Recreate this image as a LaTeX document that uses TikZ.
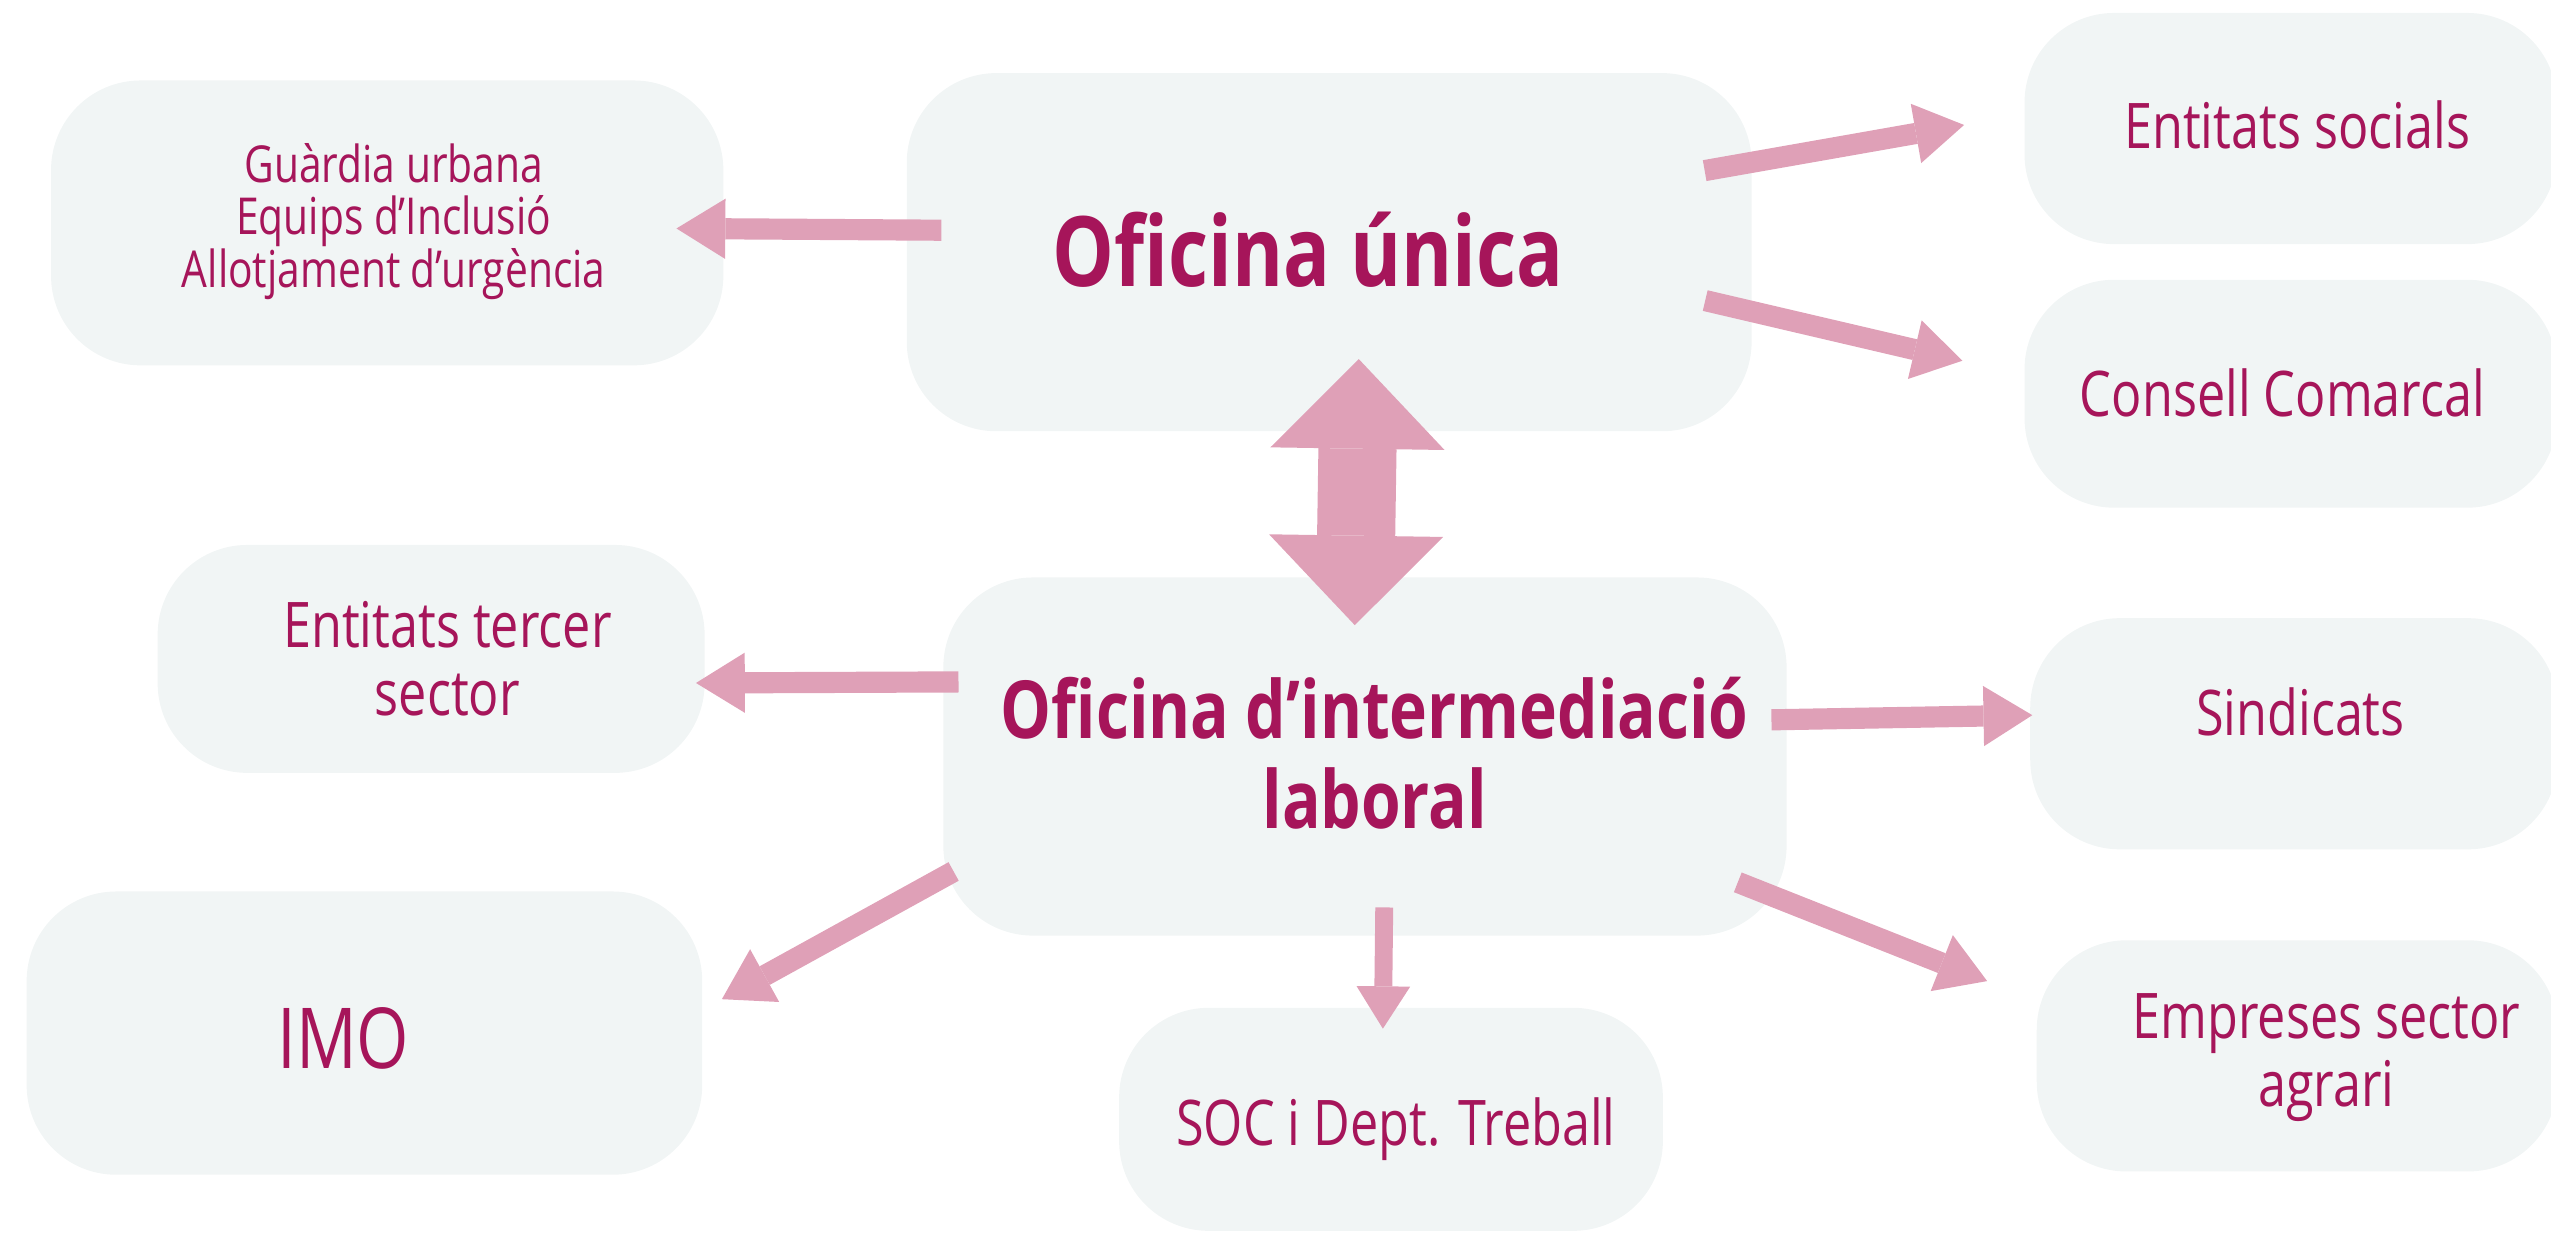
\documentclass[tikz,border=0pt]{standalone}
\usepackage{fontspec}
\setmainfont{Open Sans}[FakeStretch=0.8]
\usetikzlibrary{arrows.meta}
\definecolor{txtred}{HTML}{A6155A}
\definecolor{arrowpink}{HTML}{DFA0B7}
\definecolor{boxgray}{HTML}{F1F5F5}
\tikzstyle{box_fill}=[rectangle,rounded corners=0.55cm,fill=boxgray,inner sep=0pt]
\tikzstyle{item_text}=[text=txtred,align=center,font=\fontsize{11}{11.8}\selectfont]
\tikzstyle{head_text}=[text=txtred,align=center,font=\bfseries\fontsize{17}{17}\selectfont]
\tikzstyle{link_arrow}=[draw=arrowpink,line width=0.13cm,-{Triangle[length=0.3cm,width=0.37cm,line width=0pt]}]

\begin{document}
\begin{tikzpicture}[x=0.01cm,y=-0.01cm]
\useasboundingbox (0,0) rectangle (1568,760);
\node (guardia) at (238,137)[box_fill,minimum width=4.13cm,minimum height=1.75cm] {};
\node (unica) at (817,155)[box_fill,minimum width=5.19cm,minimum height=2.2cm] {};
\node (socials) at (1408,79)[box_fill,minimum width=3.27cm,minimum height=1.42cm] {};
\node (consell) at (1408,242)[box_fill,minimum width=3.27cm,minimum height=1.4cm] {};
\node (tercer) at (265,405)[box_fill,minimum width=3.36cm,minimum height=1.4cm] {};
\node (intermed) at (839,465)[box_fill,minimum width=5.18cm,minimum height=2.2cm] {};
\node (sindicats) at (1410,451)[box_fill,minimum width=3.24cm,minimum height=1.42cm] {};
\node (imo) at (224,635)[box_fill,minimum width=4.15cm,minimum height=1.74cm] {};
\node (soc) at (855,688)[box_fill,minimum width=3.34cm,minimum height=1.37cm] {};
\node (empreses) at (1412,649)[box_fill,minimum width=3.2cm,minimum height=1.42cm] {};

\node (t_guardia) at (242,136)[item_text,font=\fontsize{8.9}{9.2}\selectfont] {Guàrdia urbana\\Equips d’Inclusió\\Allotjament d’urgència};
\node (t_unica) at (804,176)[head_text,anchor=base] {Oficina única};
\node (t_socials) at (1412,91)[item_text,anchor=base] {Entitats socials};
\node (t_consell) at (1403,256)[item_text,anchor=base] {Consell Comarcal};
\node (t_tercer) at (275,405)[item_text] {Entitats tercer\\sector};
\node (t_intermed) at (845,463)[head_text,font=\bfseries\fontsize{14}{15.6}\selectfont] {Oficina d’intermediació\\laboral};
\node (t_sindicats) at (1414,452)[item_text,anchor=base] {Sindicats};
\node (t_imo) at (211,657)[item_text,anchor=base,font=\fontsize{14.7}{15}\selectfont] {IMO};
\node (t_soc) at (858,704)[item_text,anchor=base] {SOC i Dept. Treball};
\node (t_empreses) at (1430,650)[item_text] {Empreses sector\\agrari};

\draw[link_arrow,shorten <=-0.22cm,shorten >=-0.295cm] (unica.177.6) -- (guardia.-1);
\draw[link_arrow,shorten <=-0.3cm,shorten >=0.37cm] (unica.12.35) -- (socials.177.2);
\draw[link_arrow,shorten <=-0.3cm,shorten >=0.385cm] (unica.-8.07) -- (consell.176.05);
\draw[link_arrow,shorten <=-0.1cm,shorten >=-0.06cm] (intermed.170.96) -- (tercer.-5.47);
\draw[link_arrow,shorten <=-0.1cm,shorten >=-0.02cm] (intermed.5.51) -- (sindicats.176.12);
\draw[link_arrow,shorten <=-0.08cm,shorten >=0.13cm] (intermed.196.27) -- (imo.4.68);
\draw[link_arrow,line width=0.11cm,-{Triangle[length=0.26cm,width=0.33cm,line width=0pt]},shorten <=-0.18cm,shorten >=-0.135cm] (intermed.-84.3) -- (soc.94.2);
\draw[link_arrow,shorten <=-0.33cm,shorten >=0.32cm] (intermed.-19.67) -- (empreses.168.07);
\draw[draw=arrowpink,line width=0.48cm,{Triangle[length=0.55cm,width=1.07cm,line width=0pt]}-{Triangle[length=0.55cm,width=1.07cm,line width=0pt]},shorten <=-0.45cm,shorten >=-0.3cm] (unica.-81.7) -- (intermed.93.1);
\end{tikzpicture}
\end{document}
